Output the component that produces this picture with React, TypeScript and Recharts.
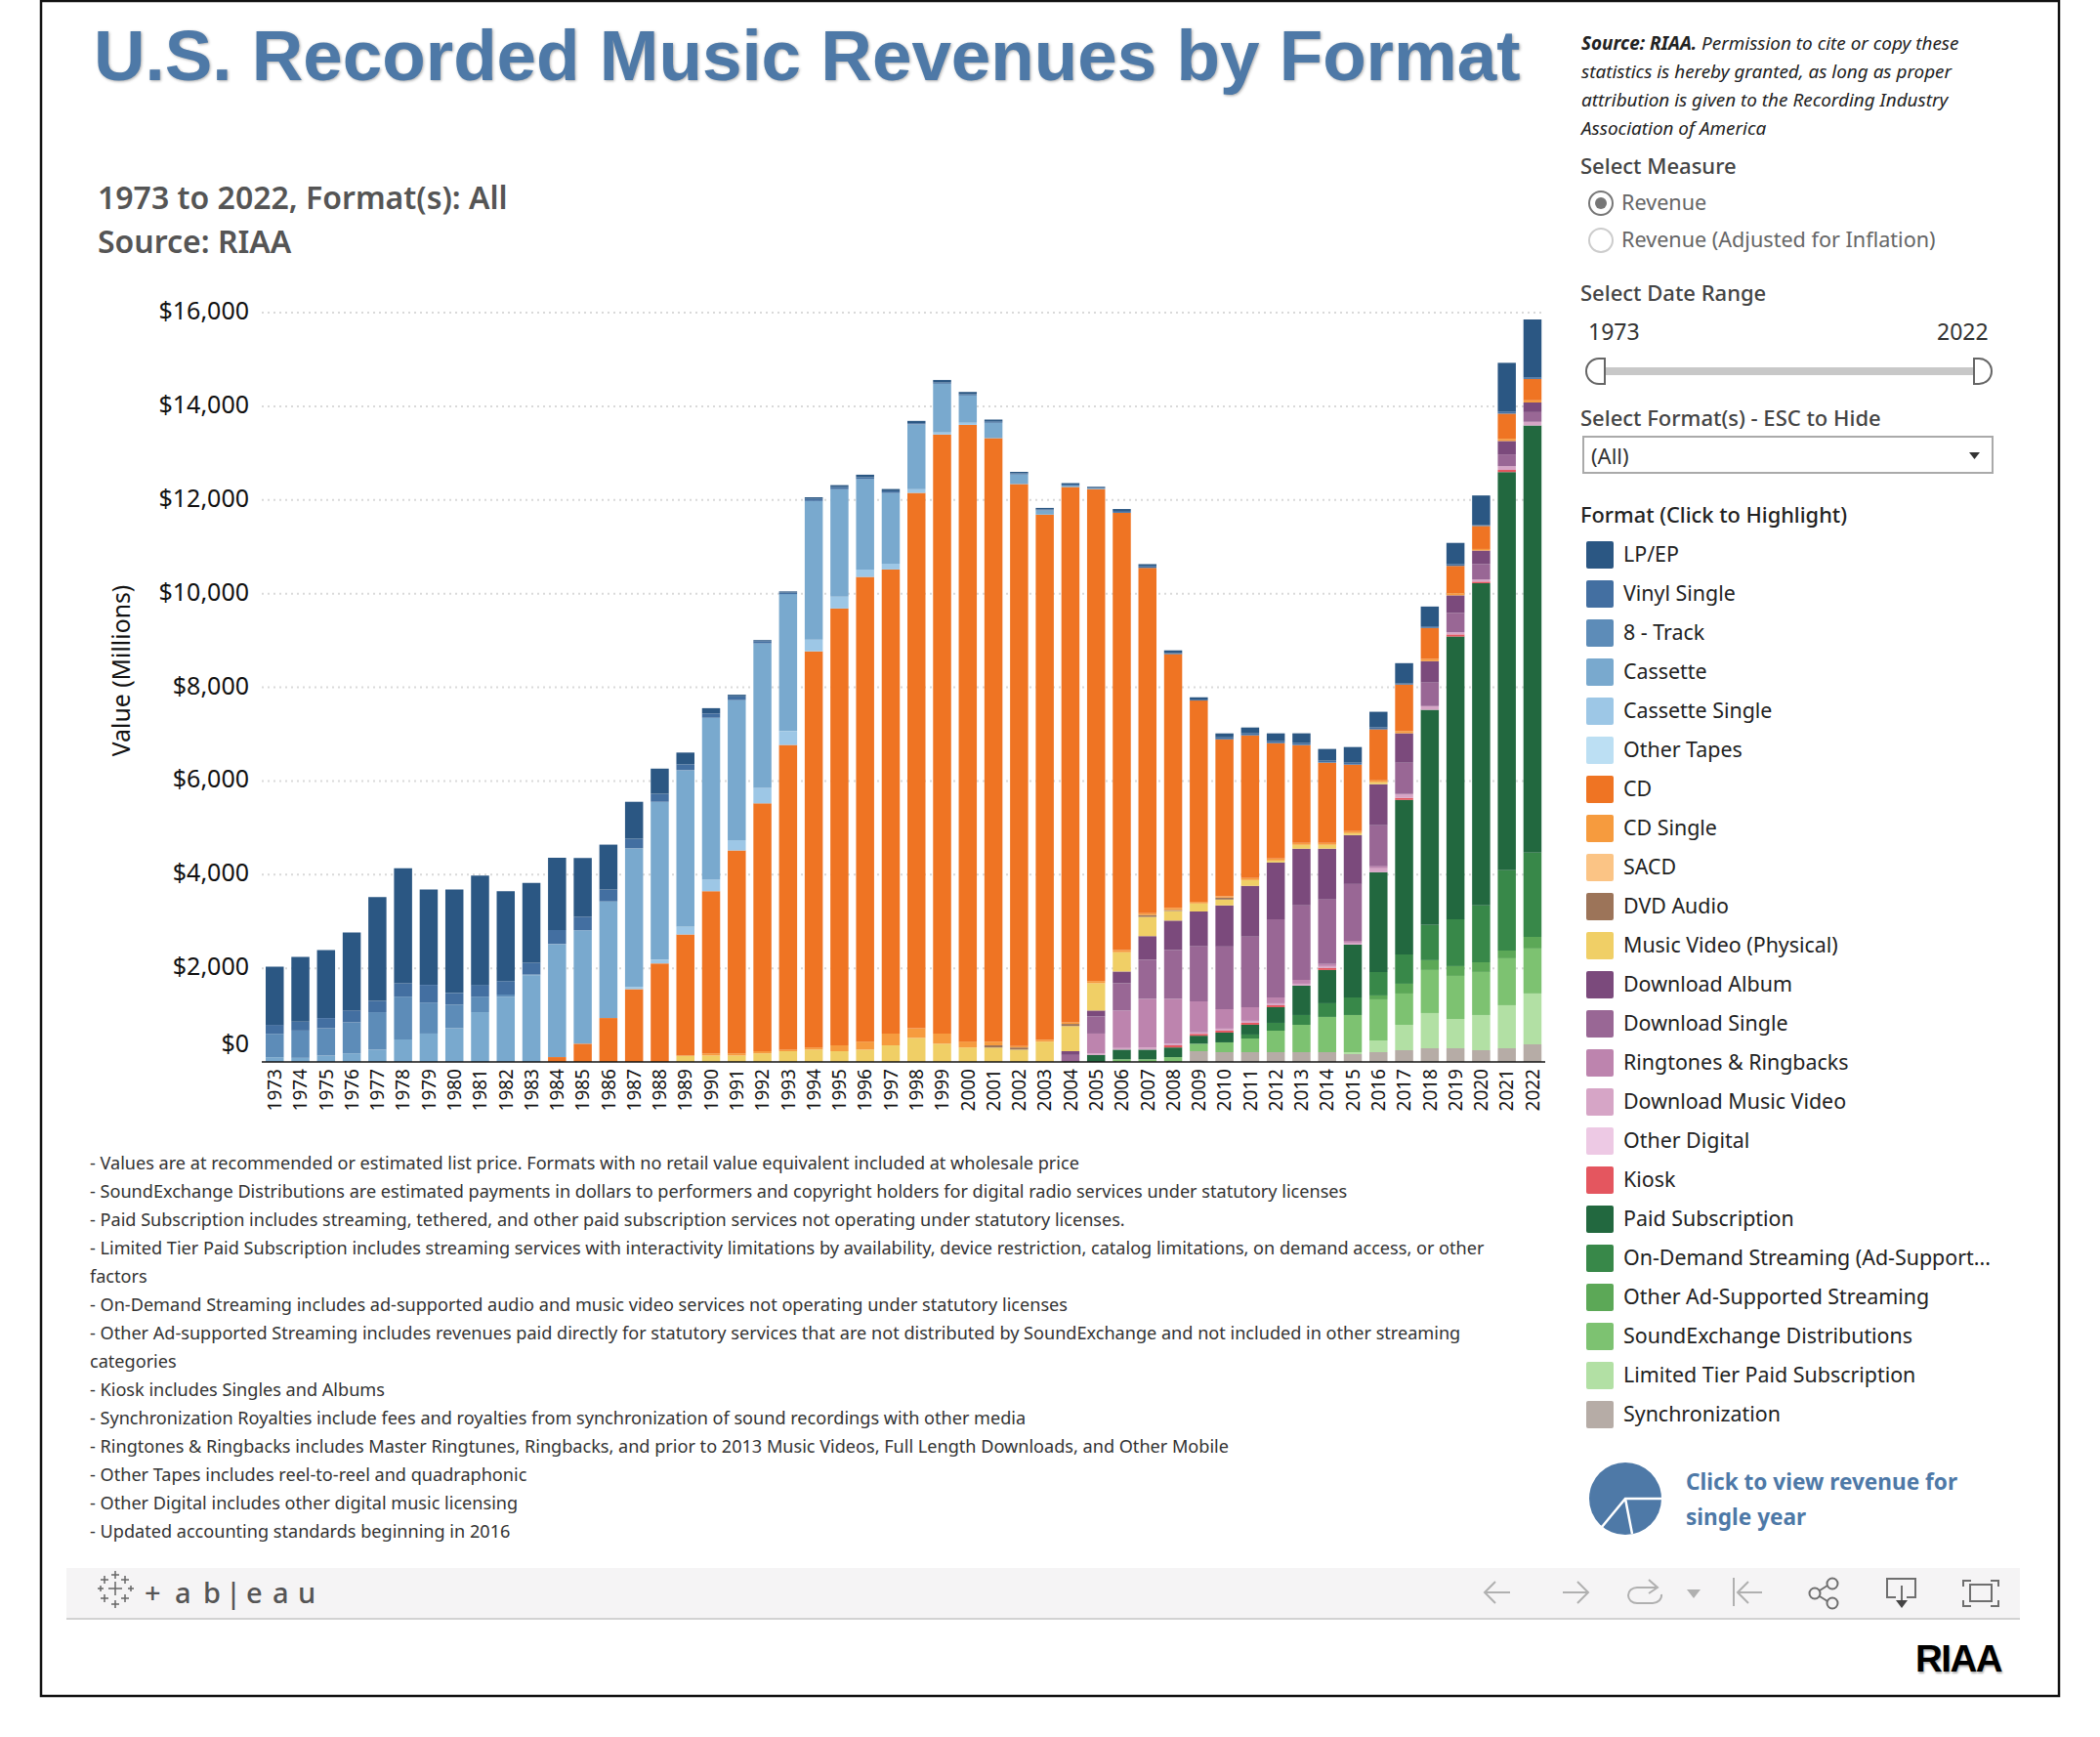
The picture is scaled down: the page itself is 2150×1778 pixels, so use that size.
import React from 'react'
import { BarChart, Bar, XAxis, YAxis, CartesianGrid } from 'recharts'

const years = [
  1973, 1974, 1975, 1976, 1977, 1978, 1979,
  1980, 1981, 1982, 1983, 1984, 1985, 1986, 1987, 1988, 1989,
  1990, 1991, 1992, 1993, 1994, 1995, 1996, 1997, 1998, 1999,
  2000, 2001, 2002, 2003, 2004, 2005, 2006, 2007, 2008, 2009,
  2010, 2011, 2012, 2013, 2014, 2015, 2016, 2017, 2018, 2019,
  2020, 2021, 2022
]

const lpEp = [
  1246, 1383, 1451, 1669, 2217, 2457, 2034,
  2206, 2332, 1920, 1703, 1543, 1257, 960, 789, 537, 251,
  114, 34, 23, 23, 33, 40, 52, 48, 49, 52,
  48, 37, 31, 32, 30, 24, 40, 35, 55, 50,
  84, 125, 167, 209, 250, 334, 334, 434, 423, 457,
  629, 1040, 1237
]
const vinylSingle = [
  190, 190, 217, 251, 240, 286, 377,
  251, 251, 286, 251, 297, 286, 251, 206, 171, 126,
  91, 80, 46, 34, 46, 46, 40, 35, 26, 28,
  26, 31, 24, 21, 19, 13, 40, 45, 25, 20,
  42, 42, 42, 42, 42, 42, 42, 23, 34, 34,
  23, 46, 34
]
const eightTrack = [
  500, 583, 583, 663, 800, 914, 663,
  503, 331, 46, 15, 6, 0, 0, 0, 0, 0,
  0, 0, 0, 0, 0, 0, 0, 0, 0, 0,
  0, 0, 0, 0, 0, 0, 0, 0, 0, 0,
  0, 0, 0, 0, 0, 0, 0, 0, 0, 0,
  0, 0, 0
]
const cassette = [
  100, 87, 137, 183, 263, 480, 606,
  720, 1063, 1394, 1852, 2412, 2423, 2492, 2960, 3372, 3338,
  3452, 2995, 3086, 2926, 2960, 2297, 1932, 1509, 1383, 1040,
  583, 331, 206, 90, 34, 13, 0, 0, 0, 0,
  0, 0, 0, 0, 0, 0, 0, 0, 0, 0,
  0, 0, 0
]
const cassetteSingle = [
  0, 0, 0, 0, 0, 0, 0,
  0, 0, 0, 0, 0, 0, 0, 46, 80, 171,
  251, 217, 331, 297, 251, 251, 160, 126, 80, 46,
  46, 0, 0, 0, 0, 0, 0, 0, 0, 0,
  0, 0, 0, 0, 0, 0, 0, 0, 0, 0,
  0, 0, 0
]
const otherTapes = [
  0, 0, 0, 0, 0, 0, 0,
  0, 0, 0, 0, 0, 0, 0, 0, 0, 0,
  0, 0, 0, 0, 0, 0, 0, 0, 0, 0,
  0, 0, 0, 0, 0, 0, 0, 0, 0, 0,
  0, 0, 0, 0, 0, 0, 0, 0, 0, 0,
  0, 0, 0
]
const cd = [
  0, 0, 0, 0, 0, 0, 0,
  0, 0, 0, 0, 103, 389, 937, 1554, 2103, 2583,
  3463, 4332, 5292, 6504, 8458, 9327, 9921, 9910, 11430, 12790,
  13168, 12882, 12000, 11213, 11430, 10504, 9338, 7372, 5418, 4298,
  3355, 3048, 2464, 2088, 1712, 1420, 1086, 994, 663, 583,
  491, 537, 457
]
const cdSingle = [
  0, 0, 0, 0, 0, 0, 0,
  0, 0, 0, 0, 0, 0, 0, 0, 0, 0,
  46, 46, 46, 34, 46, 126, 171, 251, 206, 217,
  126, 80, 30, 40, 34, 46, 46, 40, 46, 34,
  25, 42, 42, 42, 42, 42, 42, 46, 46, 46,
  34, 46, 46
]
const sacd = [
  0, 0, 0, 0, 0, 0, 0,
  0, 0, 0, 0, 0, 0, 0, 0, 0, 0,
  0, 0, 0, 0, 0, 0, 0, 0, 0, 0,
  0, 0, 0, 0, 0, 0, 0, 0, 0, 0,
  0, 0, 0, 0, 0, 0, 0, 0, 0, 0,
  0, 0, 0
]
const dvdAudio = [
  0, 0, 0, 0, 0, 0, 0,
  0, 0, 0, 0, 0, 0, 0, 0, 0, 0,
  0, 0, 0, 0, 0, 0, 0, 0, 0, 0,
  0, 46, 46, 0, 46, 0, 0, 40, 20, 0,
  42, 0, 0, 0, 0, 0, 0, 0, 0, 0,
  0, 0, 0
]
const musicVideo = [
  0, 0, 0, 0, 0, 0, 0,
  0, 0, 0, 0, 0, 0, 0, 0, 0, 137,
  137, 137, 183, 229, 263, 229, 263, 354, 514, 389,
  309, 309, 263, 434, 537, 583, 411, 411, 206, 171,
  125, 125, 42, 84, 84, 42, 42, 0, 0, 0,
  0, 0, 0
]
const downloadAlbum = [
  0, 0, 0, 0, 0, 0, 0,
  0, 0, 0, 0, 0, 0, 0, 0, 0, 0,
  0, 0, 0, 0, 0, 0, 0, 0, 0, 0,
  0, 0, 0, 0, 80, 126, 251, 503, 629, 743,
  877, 1086, 1211, 1211, 1086, 1044, 877, 629, 457, 377,
  286, 286, 206
]
const downloadSingle = [
  0, 0, 0, 0, 0, 0, 0,
  0, 0, 0, 0, 0, 0, 0, 0, 0, 0,
  0, 0, 0, 0, 0, 0, 0, 0, 0, 0,
  0, 0, 0, 0, 149, 366, 583, 834, 1040, 1177,
  1336, 1503, 1670, 1587, 1378, 1211, 877, 668, 503, 411,
  331, 251, 206
]
const ringtones = [
  0, 0, 0, 0, 0, 0, 0,
  0, 0, 0, 0, 0, 0, 0, 0, 0, 0,
  0, 0, 0, 0, 0, 0, 0, 0, 0, 0,
  0, 0, 0, 0, 0, 423, 800, 1040, 960, 663,
  418, 292, 125, 84, 42, 42, 42, 0, 0, 0,
  0, 0, 0
]
const downloadMusicVideo = [
  0, 0, 0, 0, 0, 0, 0,
  0, 0, 0, 0, 0, 0, 0, 0, 0, 0,
  0, 0, 0, 0, 0, 0, 0, 0, 0, 0,
  0, 0, 0, 0, 0, 34, 34, 46, 34, 30,
  42, 42, 42, 42, 42, 42, 84, 84, 80, 46,
  46, 80, 80
]
const otherDigital = [
  0, 0, 0, 0, 0, 0, 0,
  0, 0, 0, 0, 0, 0, 0, 0, 0, 0,
  0, 0, 0, 0, 0, 0, 0, 0, 0, 0,
  0, 0, 0, 0, 0, 0, 0, 0, 0, 0,
  0, 0, 0, 0, 0, 0, 0, 0, 0, 0,
  0, 0, 0
]
const kiosk = [
  0, 0, 0, 0, 0, 0, 0,
  0, 0, 0, 0, 0, 0, 0, 0, 0, 0,
  0, 0, 0, 0, 0, 0, 0, 0, 0, 0,
  0, 0, 0, 0, 0, 0, 0, 0, 46, 40,
  42, 42, 42, 0, 42, 0, 0, 42, 0, 46,
  34, 46, 0
]
const paidSubscription = [
  0, 0, 0, 0, 0, 0, 0,
  0, 0, 0, 0, 0, 0, 0, 0, 0, 0,
  0, 0, 0, 0, 0, 0, 0, 0, 0, 0,
  0, 0, 0, 0, 0, 149, 206, 206, 206, 171,
  209, 209, 334, 626, 710, 1127, 2130, 3299, 4594, 6035,
  6881, 8504, 9121
]
const onDemand = [
  0, 0, 0, 0, 0, 0, 0,
  0, 0, 0, 0, 0, 0, 0, 0, 0, 0,
  0, 0, 0, 0, 0, 0, 0, 0, 0, 0,
  0, 0, 0, 0, 0, 0, 0, 0, 0, 0,
  0, 84, 167, 209, 292, 376, 501, 626, 752, 1002,
  1211, 1712, 1796
]
const otherAdSupported = [
  0, 0, 0, 0, 0, 0, 0,
  0, 0, 0, 0, 0, 0, 0, 0, 0, 0,
  0, 0, 0, 0, 0, 0, 0, 0, 0, 0,
  0, 0, 0, 0, 0, 0, 0, 0, 0, 0,
  0, 0, 0, 0, 0, 0, 84, 209, 209, 209,
  209, 167, 250
]
const soundExchange = [
  0, 0, 0, 0, 0, 0, 0,
  0, 0, 0, 0, 0, 0, 0, 0, 0, 0,
  0, 0, 0, 0, 0, 0, 0, 0, 0, 0,
  0, 0, 0, 0, 0, 0, 57, 57, 103, 160,
  209, 292, 459, 584, 752, 793, 877, 668, 919, 919,
  919, 1002, 960
]
const limitedTier = [
  0, 0, 0, 0, 0, 0, 0,
  0, 0, 0, 0, 0, 0, 0, 0, 0, 0,
  0, 0, 0, 0, 0, 0, 0, 0, 0, 0,
  0, 0, 0, 0, 0, 0, 0, 0, 0, 0,
  0, 0, 0, 0, 0, 42, 250, 543, 752, 626,
  752, 919, 1086
]
const synchronization = [
  0, 0, 0, 0, 0, 0, 0,
  0, 0, 0, 0, 0, 0, 0, 0, 0, 0,
  0, 0, 0, 0, 0, 0, 0, 0, 0, 0,
  0, 0, 0, 0, 0, 0, 0, 0, 0, 229,
  209, 209, 209, 209, 209, 167, 209, 250, 292, 292,
  250, 292, 376
]

// legend order, top to bottom; the stack draws it reversed
const formats = [
  { name: 'LP/EP', values: lpEp, color: '#2b5783' },
  { name: 'Vinyl Single', values: vinylSingle, color: '#436fa1' },
  { name: '8 - Track', values: eightTrack, color: '#5d8cb8' },
  { name: 'Cassette', values: cassette, color: '#79a9ce' },
  { name: 'Cassette Single', values: cassetteSingle, color: '#9dc7e6' },
  { name: 'Other Tapes', values: otherTapes, color: '#bcdff3' },
  { name: 'CD', values: cd, color: '#ef7423' },
  { name: 'CD Single', values: cdSingle, color: '#f69b3e' },
  { name: 'SACD', values: sacd, color: '#fbc485' },
  { name: 'DVD Audio', values: dvdAudio, color: '#9c7459' },
  { name: 'Music Video (Physical)', values: musicVideo, color: '#f0cf66' },
  { name: 'Download Album', values: downloadAlbum, color: '#7b4a7c' },
  { name: 'Download Single', values: downloadSingle, color: '#996795' },
  { name: 'Ringtones & Ringbacks', values: ringtones, color: '#bd84ae' },
  { name: 'Download Music Video', values: downloadMusicVideo, color: '#d6a5c6' },
  { name: 'Other Digital', values: otherDigital, color: '#edc9e4' },
  { name: 'Kiosk', values: kiosk, color: '#e4565f' },
  { name: 'Paid Subscription', values: paidSubscription, color: '#22683f' },
  { name: 'On-Demand Streaming (Ad-Support...', values: onDemand, color: '#388849' },
  { name: 'Other Ad-Supported Streaming', values: otherAdSupported, color: '#5ca857' },
  { name: 'SoundExchange Distributions', values: soundExchange, color: '#7dc271' },
  { name: 'Limited Tier Paid Subscription', values: limitedTier, color: '#b2e0a4' },
  { name: 'Synchronization', values: synchronization, color: '#b6aca6' }
]

const yTicks = [0, 2000, 4000, 6000, 8000, 10000, 12000, 14000, 16000]

const footnotes = [
  '- Values are at recommended or estimated list price. Formats with no retail value equivalent included at wholesale price',
  '- SoundExchange Distributions are estimated payments in dollars to performers and copyright holders for digital radio services under statutory licenses',
  '- Paid Subscription includes streaming, tethered, and other paid subscription services not operating under statutory licenses.',
  '- Limited Tier Paid Subscription includes streaming services with interactivity limitations by availability, device restriction, catalog limitations, on demand access, or other',
  'factors',
  '- On-Demand Streaming includes ad-supported audio and music video services not operating under statutory licenses',
  '- Other Ad-supported Streaming includes revenues paid directly for statutory services that are not distributed by SoundExchange and not included in other streaming',
  'categories',
  '- Kiosk includes Singles and Albums',
  '- Synchronization Royalties include fees and royalties from synchronization of sound recordings with other media',
  '- Ringtones & Ringbacks includes Master Ringtunes, Ringbacks, and prior to 2013 Music Videos, Full Length Downloads, and Other Mobile',
  '- Other Tapes includes reel-to-reel and quadraphonic',
  '- Other Digital includes other digital music licensing',
  '- Updated accounting standards beginning in 2016'
]

const rows = years.map((year, i) => {
  const row: Record<string, number> = { year }
  formats.forEach(f => {
    row[f.name] = f.values[i]
  })
  return row
})

const stackOrder = [...formats].reverse()

const FONT = '"Noto Sans", sans-serif'

const money = (val: number) => '$' + val.toLocaleString('en-US')

function YTick({ x, y, payload }: any) {
  // tableau nudges the zero label up so it clears the axis
  const dy = payload.value === 0 ? -19 : -2
  return (
    <text x={x} y={y + dy} dy="0.36em" textAnchor="end" fontFamily={FONT} fontSize={25} fill="#111">
      {money(payload.value)}
    </text>
  )
}

function XTick({ x, y, payload }: any) {
  return (
    <text
      transform={`translate(${x},${y + 1}) rotate(-90)`}
      dy="0.36em"
      textAnchor="end"
      fontFamily={FONT}
      fontSize={19}
      fill="#111"
    >
      {payload.value}
    </text>
  )
}

function Txt({ x, y, size, color = '#333', weight = 400, children, style }: any) {
  // y is the vertical centre of the line
  return (
    <div
      style={{
        position: 'absolute',
        left: x,
        top: y - 31,
        height: 60,
        lineHeight: '60px',
        fontSize: size,
        color,
        fontWeight: weight,
        fontFamily: FONT,
        whiteSpace: 'nowrap',
        ...style
      }}
    >
      {children}
    </div>
  )
}

function Decorations() {
  const plusSigns = [
    [118, 1626, 7], [118, 1612, 4], [118, 1642, 4], [107, 1617, 4], [128, 1617, 4],
    [107, 1636, 4], [128, 1636, 4], [103, 1626, 3], [134, 1626, 3]
  ]
  const gray = '#b0b0b0'
  const dark = '#6f6f6f'
  return (
    <svg width={2150} height={1778} style={{ position: 'absolute', left: 0, top: 0 }}>
      <rect x={42} y={1} width={2066} height={1735} fill="none" stroke="#111" strokeWidth={2.5} />

      {/* radio buttons */}
      <circle cx={1639} cy={208} r={12} fill="#fff" stroke="#777" strokeWidth={2} />
      <circle cx={1639} cy={208} r={6} fill="#777" />
      <circle cx={1639} cy={246} r={12} fill="#fff" stroke="#ccc" strokeWidth={2} />

      {/* date slider */}
      <rect x={1643} y={376} width={378} height={8} fill="#c8c8c8" />
      <path d="M1643 367 h-6 a13 13 0 0 0 0 26 h6 z" fill="#fff" stroke="#666" strokeWidth={2} />
      <path d="M2021 367 h5 a13 13 0 0 1 0 26 h-5 z" fill="#fff" stroke="#666" strokeWidth={2} />

      {/* format dropdown */}
      <rect x={1621} y={447} width={419} height={37} fill="#fff" stroke="#aaa" strokeWidth={2} />
      <path d="M2016 463 h11 l-5.5 7 z" fill="#333" />

      {/* single year pie link */}
      <circle cx={1664} cy={1534} r={37} fill="#4e79a7" />
      <path d="M1701 1534 H1664 L1640 1563 M1664 1534 L1671 1570" fill="none" stroke="#fff" strokeWidth={2.5} />

      {/* tableau toolbar */}
      <rect x={68} y={1605} width={2000} height={51} fill="#f5f4f5" />
      <rect x={68} y={1656} width={2000} height={2} fill="#d2d2d2" />
      {plusSigns.map(([cx, cy, r], i) => (
        <path
          key={i}
          d={`M${cx - r} ${cy} h${2 * r} M${cx} ${cy - r} v${2 * r}`}
          stroke="#666"
          strokeWidth={1.5}
        />
      ))}
      <text
        x="148 179 208 231 252 279 305"
        y={1641}
        fontFamily={FONT}
        fontSize={29}
        fontWeight={500}
        fill="#555"
      >
        {'+ab|eau'}
      </text>

      <g fill="none" stroke={gray} strokeWidth={2}>
        <path d="M1546 1630 H1521 M1531 1619 L1520 1630 L1531 1641" />
        <path d="M1600 1630 H1625 M1615 1619 L1626 1630 L1615 1641" />
        <path d="M1695 1625 H1676 a9 8 0 0 0 0 16 H1692 a9 8 0 0 0 9 -9" />
        <path d="M1688 1617 L1697 1625 L1688 1631" />
        <path d="M1775 1615 V1644 M1804 1630 H1780 M1790 1619 L1779 1630 L1790 1641" />
      </g>
      <path d="M1727 1627 h14 l-7 9 z" fill={gray} />
      <g fill="none" stroke={dark} strokeWidth={2}>
        <circle cx={1858} cy={1631} r={5.5} />
        <circle cx={1876} cy={1621} r={5.5} />
        <circle cx={1876} cy={1641} r={5.5} />
        <path d="M1863 1628 L1871 1623 M1863 1634 L1871 1639" />
        <path d="M1941 1635 H1932 V1616 H1961 V1635 H1952 M1947 1623 V1640" />
        <path d="M2010 1624 V1618 H2018 M2038 1618 H2046 V1624 M2046 1638 V1644 H2038 M2018 1644 H2010 V1638" />
        <rect x={2017} y={1622} width={22} height={17} />
      </g>
      <path d="M1941 1638 h12 l-6 8 z" fill="#444" />
    </svg>
  )
}

export default function App() {
  return (
    <div style={{ position: 'absolute', left: 0, top: 0, width: 2150, height: 1778, background: '#fff', overflow: 'hidden' }}>
      <Decorations />

      <Txt
        x={96}
        y={58}
        size={72.8}
        color="#4e79a7"
        weight={700}
        style={{ fontFamily: '"Liberation Sans", sans-serif', textShadow: '1px 1px 3px rgba(40,40,40,0.4)' }}
      >
        U.S. Recorded Music Revenues by Format
      </Txt>
      <Txt x={100} y={203} size={32} color="#555" weight={600}>1973 to 2022, Format(s): All</Txt>
      <Txt x={100} y={248} size={32} color="#555" weight={600}>Source: RIAA</Txt>

      <div style={{ position: 'absolute', left: 0, top: 0 }}>
        <BarChart
          width={2150}
          height={1200}
          data={rows}
          margin={{ top: 320, right: 568, left: 0, bottom: 0 }}
          barSize={18.5}
        >
          <CartesianGrid
            vertical={false}
            stroke="#d9d9d9"
            strokeWidth={2}
            strokeDasharray="2 4"
            horizontalValues={yTicks.slice(1)}
          />
          <XAxis
            dataKey="year"
            interval={0}
            height={113}
            tickLine={false}
            tickMargin={0}
            axisLine={{ stroke: '#111', strokeWidth: 1.5 }}
            tick={<XTick />}
          />
          <YAxis
            width={268}
            domain={[0, 16000]}
            ticks={yTicks}
            axisLine={false}
            tickLine={false}
            tick={<YTick />}
            tickMargin={7}
            label={{
              value: 'Value (Millions)',
              angle: -90,
              position: 'insideLeft',
              offset: 124,
              dy: -17,
              style: { fontFamily: FONT, fontSize: 24.8, fill: '#111', textAnchor: 'middle' }
            }}
          />
          {stackOrder.map(f => (
            <Bar key={f.name} dataKey={f.name} stackId="a" fill={f.color} isAnimationActive={false} />
          ))}
        </BarChart>
      </div>

      {footnotes.map((line, i) => (
        <Txt key={i} x={92} y={1191 + i * 29} size={18.1} color="#333">{line}</Txt>
      ))}

      {/* right hand panel */}
      {[
        [<><b>Source: RIAA.</b> Permission to cite or copy these</>, 45],
        ['statistics is hereby granted, as long as proper', 74],
        ['attribution is given to the Recording Industry', 103],
        ['Association of America', 132]
      ].map(([line, y]: any, i) => (
        <Txt key={i} x={1619} y={y} size={18.9} color="#222" style={{ fontStyle: 'italic' }}>{line}</Txt>
      ))}
      <Txt x={1618} y={170} size={22} color="#444" weight={500}>Select Measure</Txt>
      <Txt x={1660} y={208} size={21.6} color="#666">Revenue</Txt>
      <Txt x={1660} y={246} size={21.6} color="#666">Revenue (Adjusted for Inflation)</Txt>
      <Txt x={1618} y={300} size={22} color="#444" weight={500}>Select Date Range</Txt>
      <Txt x={1626} y={340} size={23} color="#333">1973</Txt>
      <Txt x={1983} y={340} size={23} color="#333">2022</Txt>
      <Txt x={1618} y={428} size={22} color="#444" weight={500}>Select Format(s) - ESC to Hide</Txt>
      <Txt x={1629} y={467} size={22} color="#333">(All)</Txt>
      <Txt x={1618} y={528} size={21.8} color="#222" weight={500}>Format (Click to Highlight)</Txt>

      {formats.map((f, i) => (
        <React.Fragment key={f.name}>
          <div
            style={{
              position: 'absolute',
              left: 1624,
              top: 554 + i * 40,
              width: 28,
              height: 28,
              borderRadius: 2,
              background: f.color
            }}
          />
          <Txt x={1662} y={568 + i * 40} size={21.4} color="#222">{f.name}</Txt>
        </React.Fragment>
      ))}

      <Txt x={1726} y={1518} size={22.6} color="#4e79a7" weight={700}>Click to view revenue for</Txt>
      <Txt x={1726} y={1554} size={22.6} color="#4e79a7" weight={700}>single year</Txt>

      <Txt
        x={1961}
        y={1699}
        size={38.5}
        color="#000"
        weight={700}
        style={{ fontFamily: '"Liberation Sans", sans-serif', letterSpacing: -1.5, textShadow: '1px 2px 2px rgba(0,0,0,0.3)' }}
      >
        RIAA
      </Txt>
    </div>
  )
}
